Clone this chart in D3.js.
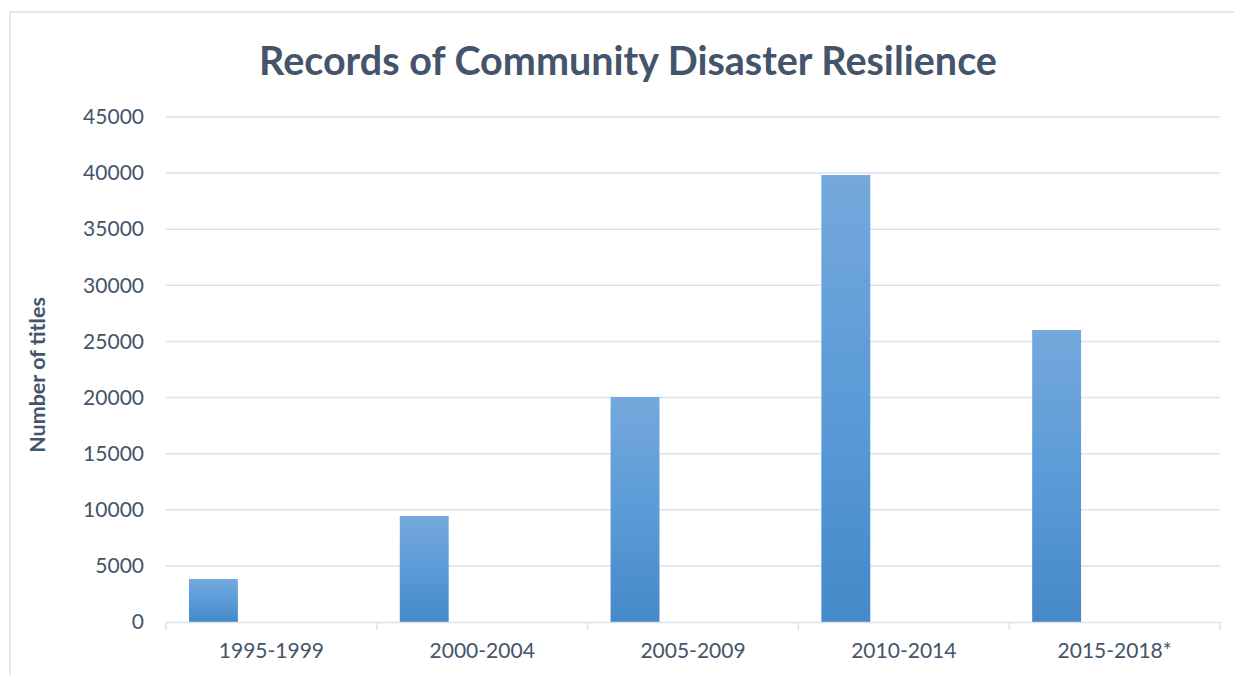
<html>
<head>
<script src="https://d3js.org/d3.v7.min.js"></script>
<style>
  body { margin: 0; background: #fff; }
  text { font-family: Lato, "Open Sans", sans-serif; fill: #44546a; }
</style>
</head>
<body>
<div id="chart"></div>
<script>
// data
var periods = ['1995-1999', '2000-2004', '2005-2009', '2010-2014', '2015-2018*'];
var titles = [3830, 9450, 20050, 39830, 26020];
var yTicks = [0, 5000, 10000, 15000, 20000, 25000, 30000, 35000, 40000, 45000];

var W = 1234, H = 675;
var margin = {top: 117, right: 14, bottom: 53, left: 166};
var width = W - margin.left - margin.right;
var height = H - margin.top - margin.bottom;

var svg = d3.select('#chart').append('svg')
    .attr('width', W).attr('height', H);

// chart frame
svg.append('rect')
    .attr('x', 10).attr('y', 12)
    .attr('width', W).attr('height', H)
    .attr('fill', 'none').attr('stroke', '#dde2ea').attr('stroke-width', 1.5);

var defs = svg.append('defs');
var grad = defs.append('linearGradient').attr('id', 'barGrad')
    .attr('x1', 0).attr('y1', 0).attr('x2', 0).attr('y2', 1);
grad.append('stop').attr('offset', '0%').attr('stop-color', '#75a8dc');
grad.append('stop').attr('offset', '50%').attr('stop-color', '#5b9bd8');
grad.append('stop').attr('offset', '100%').attr('stop-color', '#4589c9');

var g = svg.append('g')
    .attr('transform', 'translate(' + margin.left + ',' + margin.top + ')');

var x = d3.scaleBand().domain(periods).range([0, width]);
var y = d3.scaleLinear().domain([0, 45000]).range([height, 0]);

// gridlines
g.selectAll('.grid')
    .data(yTicks.filter(function(d) { return d > 0; }))
    .enter().append('line')
    .attr('x1', 0).attr('x2', width)
    .attr('y1', function(d) { return y(d); })
    .attr('y2', function(d) { return y(d); })
    .attr('stroke', '#dde2ea').attr('stroke-width', 1.5);

// y tick labels
var yAxis = g.append('g').call(d3.axisLeft(y).tickValues(yTicks).tickSize(0).tickPadding(22).tickFormat(d3.format('d')));
yAxis.select('.domain').remove();
yAxis.selectAll('text').attr('font-size', 21).style('fill', '#44546a')
    .style('font-family', 'Lato, "Open Sans", sans-serif');

// bars: clustered layout, only the first slot filled
var barW = x.bandwidth() * 0.232;
var barOff = x.bandwidth() * 0.109;
g.selectAll('.bar')
    .data(periods)
    .enter().append('rect')
    .attr('x', function(d) { return x(d) + barOff; })
    .attr('y', function(d, i) { return y(titles[i]); })
    .attr('width', barW)
    .attr('height', function(d, i) { return height - y(titles[i]); })
    .attr('fill', 'url(#barGrad)');

// x axis
var xAxis = g.append('g').attr('transform', 'translate(0,' + height + ')')
    .call(d3.axisBottom(x).tickSize(0).tickPadding(21));
xAxis.select('.domain').attr('stroke', '#dde2ea').attr('stroke-width', 1.5);
xAxis.selectAll('text').attr('font-size', 21).style('fill', '#44546a')
    .style('font-family', 'Lato, "Open Sans", sans-serif');

// category separators
var bounds = periods.map(function(d) { return x(d); }).concat([width]);
g.selectAll('.sep')
    .data(bounds)
    .enter().append('line')
    .attr('x1', function(d) { return d; }).attr('x2', function(d) { return d; })
    .attr('y1', height).attr('y2', height + 8)
    .attr('stroke', '#dde2ea').attr('stroke-width', 1.5);

// title
svg.append('text')
    .attr('x', 628).attr('y', 75)
    .attr('text-anchor', 'middle')
    .attr('font-size', 39.5).attr('font-weight', 'bold')
    .text('Records of Community Disaster Resilience');

// y axis title
svg.append('text')
    .attr('transform', 'translate(45,375) rotate(-90)')
    .attr('text-anchor', 'middle')
    .attr('font-size', 21.5).attr('font-weight', 'bold')
    .text('Number of titles');
</script>
</body>
</html>
